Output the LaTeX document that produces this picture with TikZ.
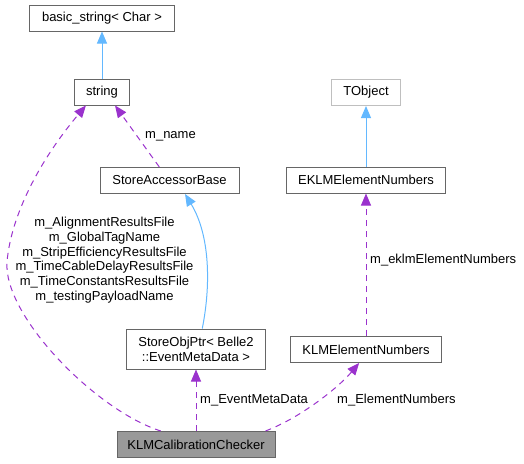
\documentclass[tikz,border=0pt]{standalone}
\usepackage{fontspec}
\setmainfont{Liberation Sans}
\usetikzlibrary{arrows.meta}

\definecolor{inhblue}{HTML}{63B8FF}
\definecolor{usepurple}{HTML}{9A32CD}
\definecolor{boxedge}{HTML}{666666}
\definecolor{extedge}{HTML}{BFBFBF}
\definecolor{curfill}{HTML}{999999}

\tikzset{
  cls/.style={draw=boxedge, fill=white, line width=1pt, minimum height=26pt, inner sep=2pt,
    font=\fontsize{13}{14.7}\selectfont, align=center},
  inh/.style={draw=inhblue, line width=1pt, -{Triangle[length=12pt,width=10pt]}},
  use/.style={draw=usepurple, line width=1pt, dash pattern=on 6pt off 5pt, -{Triangle[length=12pt,width=10pt]}},
  lbl/.style={font=\fontsize{13}{14.7}\selectfont, align=center, inner sep=0pt}
}

\begin{document}
\begin{tikzpicture}[x=1pt,y=-1pt]
    \useasboundingbox (0,0) rectangle (524,463);

    % classes
    \node[cls, minimum width=145pt] (bstr) at (102,18) {basic\_string< Char >};
    \node[cls, minimum width=55pt] (str) at (102,92) {string};
    \node[cls, minimum width=139pt] (sab) at (169.5,180.5) {StoreAccessorBase};
    \node[cls, draw=extedge, minimum width=69pt] (tobj) at (366,92.5) {TObject};
    \node[cls, minimum width=159pt] (eklm) at (366,180) {EKLMElementNumbers};
    \node[cls, minimum width=139pt, minimum height=40pt] (sop) at (196,349) {StoreObjPtr< Belle2\\::EventMetaData >};
    \node[cls, minimum width=151pt] (klm) at (366,349.5) {KLMElementNumbers};
    \node[cls, fill=curfill, minimum width=158pt] (chk) at (196,444.5) {KLMCalibrationChecker};

    % inheritance
    \draw[inh] (str.north) -- (bstr.south);
    \draw[inh] (eklm.north) -- (tobj.south);
    \draw[inh] (sop.73) .. controls (211,285) and (210,235) .. (sab.-41);

    % usage
    \draw[use] (sab.127) -- (str.-46);
    \draw[use] (chk.north) -- (sop.south);
    \draw[use] (klm.north) -- (eklm.south);
    \draw[use] (chk.159) .. controls (95,410) and (3,315) .. (7,262)
                         .. controls (11,215) and (40,160) .. (str.-140);
    \draw[use] (chk.11) .. controls (300,418) and (338,388) .. (klm.-117);

    % labels
    \node[lbl, anchor=west] (lname) at (145,136) {m\_name};
    \node[lbl] (lfiles) at (104.5,260) {m\_AlignmentResultsFile\\m\_GlobalTagName\\m\_StripEfficiencyResultsFile\\m\_TimeCableDelayResultsFile\\m\_TimeConstantsResultsFile\\m\_testingPayloadName};
    \node[lbl, anchor=west] (lmeta) at (200,400) {m\_EventMetaData};
    \node[lbl, anchor=west] (lelem) at (337,400) {m\_ElementNumbers};
    \node[lbl, anchor=west] (leklm) at (370,260) {m\_eklmElementNumbers};
\end{tikzpicture}
\end{document}
